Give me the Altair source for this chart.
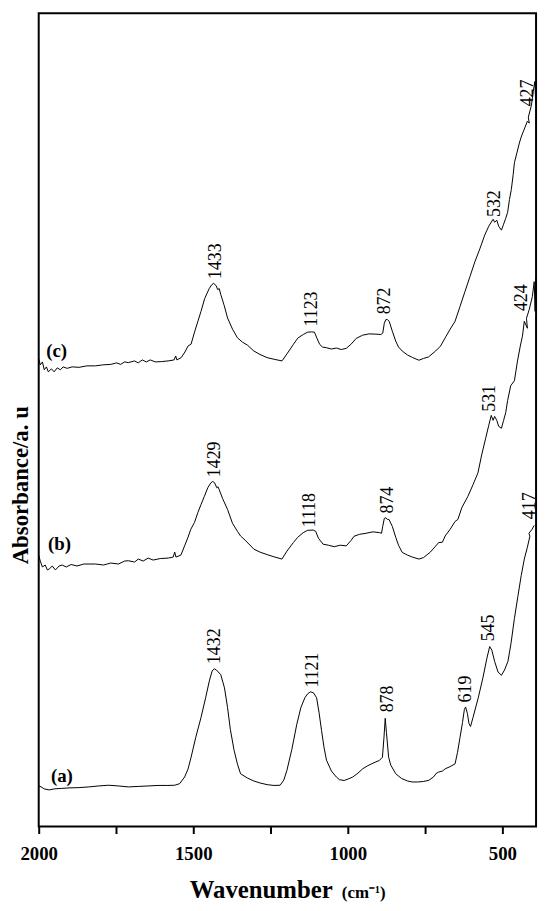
import altair as alt
import pandas as pd

# ---------------- data ----------------
# curve (a)
wn_a = [2000, 1992, 1982, 1966, 1950, 1927, 1902, 1870, 1838, 1806, 1774, 1742, 1710, 1678, 1646, 1614, 1582, 1560,
        1544, 1528, 1517, 1507, 1492, 1475, 1460, 1448, 1439, 1432, 1425, 1411, 1399, 1389, 1380, 1368, 1357, 1347,
        1325, 1304, 1284, 1261, 1239, 1219, 1207, 1197, 1181, 1165, 1152, 1139, 1130, 1121, 1111, 1101, 1093, 1085,
        1077, 1069, 1053, 1037, 1027, 1012, 999, 984, 967, 952, 935, 915, 898, 888, 883, 879, 875, 868, 861, 845,
        826, 807, 792, 775, 755, 738, 723, 713, 706, 694, 685, 669, 653, 645, 637, 629, 623, 619, 613, 608, 603, 595,
        578, 563, 550, 541, 534, 525, 514, 503, 493, 482, 472, 461, 450, 439, 429, 419, 411, 414, 404, 397]
ab_a = [0.41, 0.40, 0.38, 0.37, 0.38, 0.385, 0.39, 0.393, 0.40, 0.41, 0.417, 0.41, 0.40, 0.405, 0.41, 0.415, 0.415, 0.417,
        0.433, 0.50, 0.58, 0.70, 0.90, 1.10, 1.30, 1.47, 1.57, 1.593, 1.58, 1.533, 1.40, 1.20, 0.98, 0.77, 0.63, 0.533,
        0.49, 0.46, 0.44, 0.423, 0.415, 0.417, 0.47, 0.567, 0.78, 1.033, 1.20, 1.30, 1.34, 1.36, 1.35, 1.30, 1.15, 0.97,
        0.80, 0.67, 0.56, 0.50, 0.473, 0.465, 0.48, 0.50, 0.54, 0.583, 0.615, 0.645, 0.667, 0.70, 0.90, 1.093, 0.95, 0.70, 0.62, 0.533,
        0.485, 0.46, 0.45, 0.45, 0.455, 0.467, 0.50, 0.54, 0.55, 0.56, 0.583, 0.605, 0.633, 0.75, 0.90, 1.05, 1.18, 1.207, 1.14, 1.04, 1.01, 1.10,
        1.30, 1.50, 1.70, 1.817, 1.78, 1.667, 1.56, 1.527, 1.58, 1.667, 1.85, 2.10, 2.32, 2.533, 2.70, 2.82, 2.93, 2.96, 3.00, 3.04]

# curve (b)
wn_b = [2000, 1995, 1988, 1979, 1972, 1966, 1956, 1946, 1934, 1924, 1911, 1895, 1876, 1854, 1816, 1790, 1767, 1742, 1722,
        1710, 1690, 1678, 1662, 1646, 1630, 1607, 1581, 1565, 1560, 1556, 1540, 1528, 1517, 1508, 1496, 1485, 1475, 1464,
        1453, 1443, 1437, 1431, 1424, 1420, 1416, 1405, 1389, 1373, 1357, 1347, 1332, 1304, 1284, 1261, 1236, 1213, 1197,
        1176, 1162, 1144, 1130, 1112, 1104, 1095, 1080, 1063, 1044, 1024, 1005, 989, 980, 962, 941, 919, 898, 891, 887,
        882, 877, 872, 867, 856, 845, 836, 824, 807, 791, 770, 755, 733, 716, 706, 694, 685, 669, 653, 644, 631, 612, 595,
        579, 567, 554, 544, 536, 530, 525, 518, 512, 503, 496, 489, 483, 473, 461, 451, 442, 435, 429, 419, 422, 413, 403,
        397, 394, 392]
ab_b = [2.74, 2.68, 2.62, 2.64, 2.59, 2.60, 2.63, 2.59, 2.63, 2.64, 2.62, 2.645, 2.63, 2.65, 2.65, 2.64, 2.66, 2.65, 2.68,
        2.683, 2.67, 2.70, 2.68, 2.71, 2.69, 2.705, 2.71, 2.72, 2.77, 2.72, 2.74, 2.833, 2.92, 3.00, 3.07, 3.17, 3.25, 3.333,
        3.42, 3.47, 3.483, 3.47, 3.42, 3.43, 3.40, 3.31, 3.20, 3.06, 2.98, 2.933, 2.89, 2.80, 2.77, 2.745, 2.72, 2.70, 2.78,
        2.867, 2.92, 2.967, 2.99, 2.993, 2.98, 2.91, 2.85, 2.84, 2.825, 2.84, 2.833, 2.89, 2.93, 2.95, 2.96, 2.975, 2.967, 2.96, 3.03,
        3.11, 3.117, 3.10, 3.10, 3.03, 2.92, 2.84, 2.767, 2.74, 2.72, 2.70, 2.715, 2.77, 2.83, 2.867, 2.87, 2.933, 3.00, 3.08, 3.10, 3.22, 3.33, 3.45,
        3.57, 3.75, 3.92, 4.05, 4.15, 4.10, 4.14, 4.10, 4.04, 4.02, 4.10, 4.18, 4.30, 4.45, 4.50, 4.70, 4.85, 4.95, 5.10, 5.03, 5.13, 5.22, 5.35,
        5.50, 5.20, 5.54]

# curve (c)
wn_c = [2000, 1995, 1988, 1982, 1975, 1969, 1959, 1950, 1940, 1930, 1921, 1908, 1892, 1870, 1844, 1816, 1793, 1767, 1748,
        1735, 1722, 1710, 1690, 1678, 1665, 1652, 1639, 1623, 1603, 1581, 1562, 1557, 1553, 1539, 1527, 1517, 1507, 1495,
        1485, 1475, 1463, 1448, 1440, 1434, 1426, 1421, 1416, 1411, 1400, 1389, 1373, 1357, 1341, 1325, 1304, 1284, 1261,
        1236, 1213, 1197, 1176, 1162, 1144, 1130, 1117, 1108, 1100, 1091, 1082, 1069, 1053, 1037, 1021, 1005, 989, 973, 952,
        931, 909, 893, 887, 882, 877, 872, 866, 856, 845, 836, 824, 807, 791, 770, 755, 739, 716, 700, 685, 669, 653, 637,
        621, 605, 589, 573, 557, 544, 530, 525, 518, 512, 503, 496, 489, 483, 477, 471, 465, 461, 453, 445, 438, 429, 419,
        413, 416, 406, 400, 395, 392, 392]
ab_c = [4.72, 4.66, 4.69, 4.61, 4.64, 4.59, 4.62, 4.59, 4.63, 4.61, 4.64, 4.625, 4.64, 4.635, 4.65, 4.65, 4.66, 4.665, 4.68,
        4.665, 4.69, 4.683, 4.70, 4.68, 4.71, 4.69, 4.71, 4.69, 4.693, 4.70, 4.71, 4.75, 4.71, 4.733, 4.79, 4.85, 4.87, 5.00,
        5.10, 5.20, 5.33, 5.433, 5.47, 5.483, 5.46, 5.42, 5.43, 5.37, 5.26, 5.133, 5.02, 4.933, 4.89, 4.86, 4.80, 4.765, 4.733,
        4.715, 4.70, 4.77, 4.867, 4.93, 4.967, 4.99, 4.993, 4.99, 4.93, 4.867, 4.84, 4.833, 4.82, 4.83, 4.815, 4.827, 4.87, 4.927, 4.96,
        4.973, 4.97, 4.967, 4.98, 5.08, 5.117, 5.117, 5.10, 5.00, 4.90, 4.84, 4.80, 4.76, 4.735, 4.707, 4.725, 4.74, 4.80, 4.85, 4.933, 5.02, 5.10, 5.25,
        5.40, 5.55, 5.70, 5.83, 5.97, 6.06, 6.13, 6.10, 6.12, 6.06, 6.02, 6.08, 6.14, 6.20, 6.33, 6.43, 6.58, 6.70, 6.80, 6.90, 6.97, 7.04, 7.12,
        7.10, 7.16, 7.28, 7.42, 7.52, 7.30, 7.50]

# peak annotations
peak_text = ["1432", "1121", "878", "619", "545", "417",
             "1429", "1118", "874", "531", "424",
             "1433", "1123", "872", "532", "427"]
peak_wn = [1430, 1113, 870, 619, 544, 411,
           1430, 1121, 869, 539, 437,
           1427, 1115, 878, 523, 416]
peak_ab = [1.62, 1.383, 1.133, 1.233, 1.85, 3.083,
           3.507, 3.00, 3.14, 4.167, 5.183,
           5.507, 5.027, 5.15, 6.133, 7.25]

# curve names
curve_text = ["(a)", "(b)", "(c)"]
curve_wn = [1925, 1933, 1942]
curve_ab = [0.51, 2.85, 4.80]

x_ticks = [2000, 1750, 1500, 1250, 1000, 750, 500]

# ---------------- build tables ----------------
rows = []
for name, xs, ys in (("a", wn_a, ab_a), ("b", wn_b, ab_b), ("c", wn_c, ab_c)):
    for i, (x, y) in enumerate(zip(xs, ys)):
        rows.append({"s": name, "i": i, "wn": x, "ab": y})
spec = pd.DataFrame(rows)
peaks = pd.DataFrame({"t": peak_text, "wn": peak_wn, "ab": peak_ab})
names = pd.DataFrame({"t": curve_text, "wn": curve_wn, "ab": curve_ab})

FONT = "Liberation Serif"

xscale = alt.Scale(domain=[391, 2000], reverse=True, nice=False, zero=False)
yscale = alt.Scale(domain=[0, 8.21], nice=False, zero=False)

xaxis = alt.Axis(values=x_ticks, labelExpr="datum.value % 500 == 0 ? datum.label : ''",
                 title="Wavenumber", titleFont=FONT, titleFontSize=25, titleFontWeight="bold",
                 titleColor="black", titleX=224, titleY=72, titleBaseline="alphabetic",
                 labelFont=FONT, labelFontSize=19, labelFontWeight="bold", labelColor="black",
                 labelPadding=11, labelFlush=False, labelOverlap=False,
                 tickSize=7, tickWidth=2, tickColor="black", grid=False, domain=False, format="d")
yaxis = alt.Axis(title="Absorbance/a. u", titleFont=FONT, titleFontSize=23, titleFontWeight="bold",
                 titleColor="black", titleX=-6, titleY=476, titleAngle=270, titleBaseline="bottom",
                 labels=False, ticks=False, grid=False, domain=False)

lines = alt.Chart(spec).mark_line(color="black", strokeWidth=1).encode(
    x=alt.X("wn:Q", scale=xscale, axis=xaxis),
    y=alt.Y("ab:Q", scale=yscale, axis=yaxis),
    detail="s:N",
    order=alt.Order("i:Q"),
)

peak_labels = alt.Chart(peaks).mark_text(
    angle=270, align="left", baseline="middle", dx=2,
    font=FONT, fontSize=18, color="black"
).encode(x=alt.X("wn:Q", scale=xscale), y=alt.Y("ab:Q", scale=yscale), text="t:N")

curve_labels = alt.Chart(names).mark_text(
    align="center", baseline="middle", font=FONT, fontSize=19, fontWeight="bold", color="black"
).encode(x=alt.X("wn:Q", scale=xscale), y=alt.Y("ab:Q", scale=yscale), text="t:N")

unit = alt.Chart(pd.DataFrame({"t": ["(cm\u207b\u00b9)"]})).mark_text(
    align="left", baseline="alphabetic", font=FONT, fontSize=17, fontWeight="bold", color="black"
).encode(x=alt.value(306), y=alt.value(893), text="t:N")

chart = alt.layer(lines, peak_labels, curve_labels, unit).properties(
    width=502, height=821,
    background="white",
    padding={"left": 31, "top": 1, "right": 6, "bottom": 80},
    autosize=alt.AutoSizeParams(type="none"),
).configure_view(stroke="black", strokeWidth=2)

chart.save("out.html", embed_options={"renderer": "svg", "actions": False})
